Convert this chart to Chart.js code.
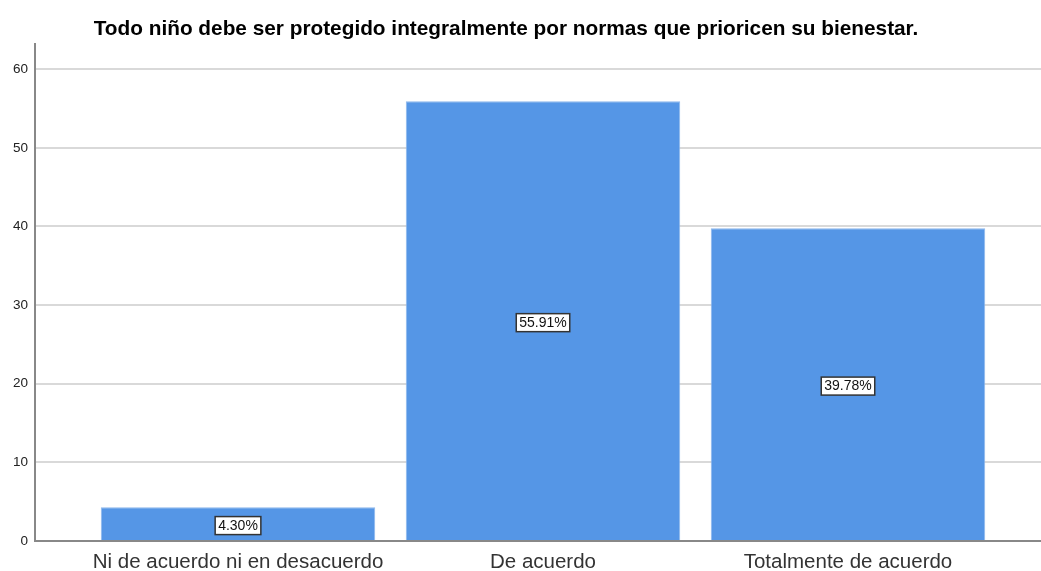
<!DOCTYPE html>
<html>
<head>
<meta charset="utf-8">
<script src="https://cdn.jsdelivr.net/npm/chart.js@4/dist/chart.umd.min.js"></script>
<style>
html,body{margin:0;padding:0;background:#fff;}
#wrap{width:1041px;height:571px;}
</style>
</head>
<body>
<div id="wrap"><canvas id="c" width="1041" height="571"></canvas></div>
<script>
const titleText = 'Todo niño debe ser protegido integralmente por normas que prioricen su bienestar.';
const categories = ['Ni de acuerdo ni en desacuerdo', 'De acuerdo', 'Totalmente de acuerdo'];
const percents = [4.30, 55.91, 39.78];
const percentLabels = ['4.30%', '55.91%', '39.78%'];
const yTicks = [0, 10, 20, 30, 40, 50, 60];

const points = percents.map((v, i) => ({ x: i + 1, y: v }));

const titlePlugin = {
  id: 'customTitle',
  afterDraw(chart) {
    const ctx = chart.ctx;
    ctx.save();
    ctx.font = 'bold 20.8px "Liberation Sans", Arial, sans-serif';
    ctx.fillStyle = '#000';
    ctx.textAlign = 'center';
    ctx.textBaseline = 'middle';
    ctx.fillText(titleText, 506, 29);
    ctx.restore();
  }
};

const boxLabels = {
  id: 'boxLabels',
  afterDatasetsDraw(chart) {
    const ctx = chart.ctx;
    const meta = chart.getDatasetMeta(0);
    ctx.save();
    ctx.font = '14px "Liberation Sans", Arial, sans-serif';
    ctx.textAlign = 'center';
    ctx.textBaseline = 'middle';
    meta.data.forEach((bar, i) => {
      const t = percentLabels[i];
      const w = ctx.measureText(t).width + 6;
      const h = 18;
      const cx = bar.x;
      const cy = (bar.y + bar.base) / 2 + 2;
      ctx.fillStyle = '#fff';
      ctx.fillRect(cx - w / 2, cy - h / 2, w, h);
      ctx.strokeStyle = '#333';
      ctx.lineWidth = 1.5;
      ctx.strokeRect(cx - w / 2, cy - h / 2, w, h);
      ctx.fillStyle = '#111';
      ctx.fillText(t, cx, cy + 0.5);
    });
    ctx.restore();
  }
};

new Chart(document.getElementById('c'), {
  type: 'bar',
  data: {
    datasets: [{
      data: points,
      backgroundColor: '#5596e6',
      borderColor: '#8cb6ec',
      borderWidth: 1,
      categoryPercentage: 0.9,
      barPercentage: 1.0
    }]
  },
  options: {
    responsive: false,
    animation: false,
    devicePixelRatio: 1,
    layout: { padding: { top: 44, left: 0, right: 0, bottom: 0 } },
    plugins: {
      legend: { display: false },
      title: { display: false },
      tooltip: { enabled: false }
    },
    scales: {
      x: {
        type: 'linear',
        offset: false,
        min: 0.3344,
        max: 3.6328,
        afterBuildTicks(scale) {
          scale.ticks = categories.map((c, i) => ({ value: i + 1 }));
        },
        afterFit(scale) { scale.height = 30; },
        ticks: {
          autoSkip: false,
          maxRotation: 0,
          padding: 9,
          color: '#333',
          font: { family: '"Liberation Sans", Arial, sans-serif', size: 20.5 },
          callback: (v) => categories[Math.round(v) - 1] || ''
        },
        grid: { display: false, drawTicks: false },
        border: { display: true, color: '#888', width: 2 }
      },
      y: {
        min: 0,
        max: 63.2,
        afterBuildTicks(scale) {
          scale.ticks = yTicks.map(v => ({ value: v }));
        },
        afterFit(scale) { scale.width = 35; },
        ticks: {
          padding: 7,
          color: '#222',
          font: { family: '"Liberation Sans", Arial, sans-serif', size: 13.5 }
        },
        grid: { color: '#d9d9d9', lineWidth: 2, drawTicks: false },
        border: { display: true, color: '#888', width: 2 }
      }
    }
  },
  plugins: [titlePlugin, boxLabels]
});
</script>
</body>
</html>
